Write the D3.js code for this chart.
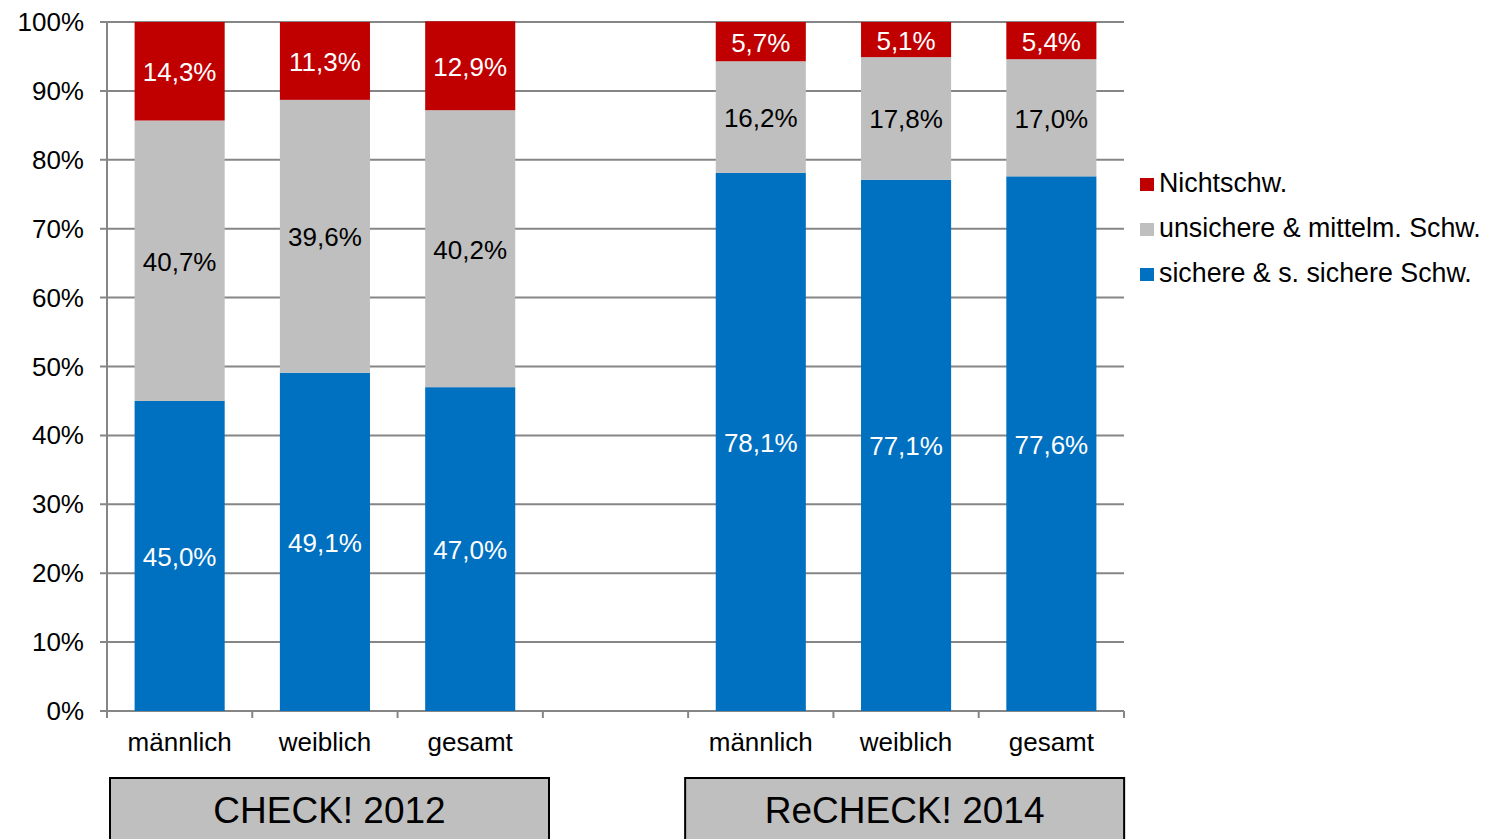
<!DOCTYPE html>
<html>
<head>
<meta charset="utf-8">
<script src="https://cdn.jsdelivr.net/npm/d3@7"></script>
<style>
  body { margin: 0; background: #fff; }
  text { font-family: "Liberation Sans", Arial, sans-serif; }
</style>
</head>
<body>
<svg id="chart" width="1491" height="839"></svg>
<script>
// categories: 7 slots, the 4th one is an empty spacer between the two studies
var slots = ['c2012_m', 'c2012_w', 'c2012_g', 'gap', 'r2014_m', 'r2014_w', 'r2014_g']
var slotLabels = ['männlich', 'weiblich', 'gesamt', '', 'männlich', 'weiblich', 'gesamt']
var sicher = [45.0, 49.1, 47.0, null, 78.1, 77.1, 77.6]
var unsicher = [40.7, 39.6, 40.2, null, 16.2, 17.8, 17.0]
var nicht = [14.3, 11.3, 12.9, null, 5.7, 5.1, 5.4]
var seriesNames = ['sichere & s. sichere Schw.', 'unsichere & mittelm. Schw.', 'Nichtschw.']
var yTicks = [0, 10, 20, 30, 40, 50, 60, 70, 80, 90, 100]
var groups = [
    { name: 'CHECK! 2012', from: 0, to: 2 },
    { name: 'ReCHECK! 2014', from: 4, to: 6 }
]

var colors = ['#0070c0', '#bfbfbf', '#c00000']
var labelColors = ['#ffffff', '#000000', '#ffffff']

var svg = d3.select('#chart')
var pLeft = 107, pRight = 1124, pTop = 22, pBottom = 711

var x = d3.scaleBand().domain(slots).range([pLeft, pRight]).paddingInner(0.38).paddingOuter(0.19)
var xs = d3.scaleBand().domain(slots).range([pLeft, pRight])  // full slots for ticks / boxes
var y = d3.scaleLinear().domain([0, 100]).range([pBottom, pTop])

// gridlines
svg.append('g').selectAll('line').data(yTicks).enter().append('line')
    .attr('x1', pLeft - 7).attr('x2', pRight)
    .attr('y1', function(d) { return y(d) }).attr('y2', function(d) { return y(d) })
    .attr('stroke', '#868686').attr('stroke-width', 2)

// y axis line
svg.append('line').attr('x1', pLeft).attr('x2', pLeft).attr('y1', pTop).attr('y2', pBottom)
    .attr('stroke', '#868686').attr('stroke-width', 2)

// y tick labels
svg.append('g').selectAll('text').data(yTicks).enter().append('text')
    .attr('x', pLeft - 23).attr('y', function(d) { return y(d) + 9 })
    .attr('text-anchor', 'end').attr('font-size', 26).attr('fill', '#000')
    .text(function(d) { return d + '%' })

// x tick marks at slot boundaries
var bounds = slots.map(function(s) { return xs(s) }).concat([pRight])
svg.append('g').selectAll('line').data(bounds).enter().append('line')
    .attr('x1', function(d) { return d }).attr('x2', function(d) { return d })
    .attr('y1', pBottom).attr('y2', pBottom + 7)
    .attr('stroke', '#868686').attr('stroke-width', 2)

// stacked bars
var series = [sicher, unsicher, nicht]
var stacks = slots.map(function(s, i) {
    var base = 0
    return series.map(function(arr, k) {
        var v = arr[i]
        var seg = { slot: s, k: k, v: v, y0: base, y1: base + (v || 0) }
        base += v || 0
        return seg
    })
})
var segs = [].concat.apply([], stacks).filter(function(d) { return d.v != null })

svg.append('g').selectAll('rect').data(segs).enter().append('rect')
    .attr('x', function(d) { return x(d.slot) })
    .attr('width', x.bandwidth())
    .attr('y', function(d) { return y(d.y1) })
    .attr('height', function(d) { return y(d.y0) - y(d.y1) })
    .attr('fill', function(d) { return colors[d.k] })

svg.append('g').selectAll('text').data(segs).enter().append('text')
    .attr('x', function(d) { return x(d.slot) + x.bandwidth() / 2 })
    .attr('y', function(d) { return y((d.y0 + d.y1) / 2) + 10 })
    .attr('text-anchor', 'middle').attr('font-size', 26)
    .attr('fill', function(d) { return labelColors[d.k] })
    .text(function(d) { return d.v.toFixed(1).replace('.', ',') + '%' })

// category labels
svg.append('g').selectAll('text').data(slots).enter().append('text')
    .attr('x', function(d) { return x(d) + x.bandwidth() / 2 })
    .attr('y', 751)
    .attr('text-anchor', 'middle').attr('font-size', 26).attr('fill', '#000')
    .text(function(d, i) { return slotLabels[i] })

// group boxes
var gb = svg.append('g').selectAll('g').data(groups).enter().append('g')
gb.append('rect')
    .attr('x', function(d, i) { return xs(slots[d.from]) + (i == 0 ? 3 : -3) })
    .attr('width', 439)
    .attr('y', 778).attr('height', 80)
    .attr('fill', '#bfbfbf').attr('stroke', '#000').attr('stroke-width', 2)
gb.append('text')
    .attr('x', function(d, i) { return xs(slots[d.from]) + (i == 0 ? 3 : -3) + 219.5 })
    .attr('y', 823)
    .attr('text-anchor', 'middle').attr('font-size', 37).attr('fill', '#000')
    .text(function(d) { return d.name })

// legend (top: Nichtschw.)
var legendOrder = [2, 1, 0]
var lg = svg.append('g').selectAll('g').data(legendOrder).enter().append('g')
    .attr('transform', function(d, i) { return 'translate(1140,' + (178 + i * 45) + ')' })
lg.append('rect').attr('width', 14).attr('height', 13)
    .attr('fill', function(d) { return colors[d] })
lg.append('text').attr('x', 19).attr('y', 14)
    .attr('font-size', 26.8).attr('fill', '#000')
    .text(function(d) { return seriesNames[d] })
</script>
</body>
</html>
